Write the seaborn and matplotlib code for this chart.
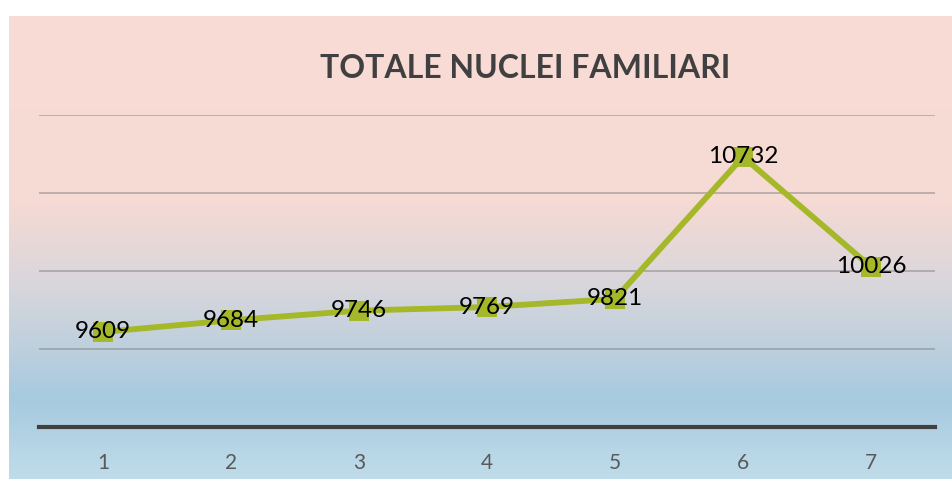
"""
plot.py
Line chart "TOTALE NUCLEI FAMILIARI" with a pink-to-blue gradient panel.
Run it with:  python3 plot.py  -> writes out.png
"""

import numpy as np
import pandas as pd
import matplotlib.pyplot as plt
from matplotlib.colors import LinearSegmentedColormap
import seaborn as sns

# ----------------------------------------------------------------------
# Data
# ----------------------------------------------------------------------
CATEGORIES = ["1", "2", "3", "4", "5", "6", "7"]
NUCLEI = [9609, 9684, 9746, 9769, 9821, 10732, 10026]
Y_TICKS = [9000, 9500, 10000, 10500, 11000]

TITLE = "TOTALE NUCLEI FAMILIARI"
LINE_COLOR = "#A5B82A"

# ----------------------------------------------------------------------
# Setup
# ----------------------------------------------------------------------
sns.set_theme(style="white")
plt.rcParams["font.family"] = ["Lato", "DejaVu Sans"]

W, H = 952, 479
fig = plt.figure(figsize=(W / 100, H / 100), dpi=100)
fig.patch.set_facecolor("white")

# Gradient panel behind the plot (white strip left and on top).
bg = fig.add_axes([9 / W, 0, (W - 9) / W, (H - 16) / H], zorder=0)
grad_cmap = LinearSegmentedColormap.from_list(
    "panel",
    [
        (0.00, "#F8DCD5"),
        (0.40, "#F6DAD4"),
        (0.59, "#D7D6DC"),
        (0.83, "#A7CADF"),
        (1.00, "#C0DCEA"),
    ],
)
bg.imshow(np.linspace(0, 1, 256).reshape(-1, 1), aspect="auto",
          cmap=grad_cmap, extent=[0, 1, 0, 1])
bg.set_axis_off()

# Main axes, transparent so the gradient shows through.
ax = fig.add_axes([39 / W, 52 / H, (935 - 39) / W, (427 - 115) / H], zorder=1)
ax.patch.set_alpha(0)

df = pd.DataFrame({"pos": range(1, len(CATEGORIES) + 1), "value": NUCLEI})

sns.lineplot(
    data=df, x="pos", y="value", ax=ax,
    color=LINE_COLOR, linewidth=4.2,
    marker="s", markersize=14, markeredgewidth=0,
)

# Data labels centred on the markers.
for x, y in zip(df["pos"], df["value"]):
    ax.text(x, y, str(y), ha="center", va="center",
            fontsize=17.5, color="black", zorder=5)

# ----------------------------------------------------------------------
# Axes styling
# ----------------------------------------------------------------------
ax.set_xlim(0.5, len(CATEGORIES) + 0.5)
ax.set_ylim(Y_TICKS[0], Y_TICKS[-1])
ax.set_xticks(df["pos"])
ax.set_xticklabels(CATEGORIES, fontsize=15, color="#595959")
ax.set_yticks(Y_TICKS)
ax.set_yticklabels([])
ax.tick_params(axis="both", length=0)
ax.tick_params(axis="x", pad=19)
ax.set_xlabel("")
ax.set_ylabel("")

ax.yaxis.grid(True, color="#8C8C8C", linewidth=1.3, alpha=0.6)
ax.set_axisbelow(True)

for side in ["top", "left", "right"]:
    ax.spines[side].set_visible(False)
ax.spines["bottom"].set_color("#404040")
ax.spines["bottom"].set_linewidth(3)

fig.text(525 / W, 1 - 68 / H, TITLE, ha="center", va="center",
         fontsize=23, fontweight="bold", color="#404040")

fig.savefig("out.png", dpi=100)
